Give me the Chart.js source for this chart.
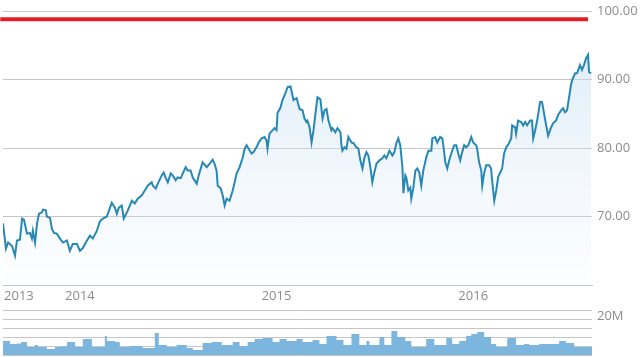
<!DOCTYPE html>
<html><head><meta charset="utf-8">
<script src="https://cdn.jsdelivr.net/npm/chart.js@4"></script>
<style>
html,body{margin:0;padding:0;background:#fff;overflow:hidden;width:640px;height:357px;}
#wrap1{position:absolute;left:0;top:0;width:640px;height:305px;}
#wrap2{position:absolute;left:0;top:300px;width:640px;height:64px;}
</style></head><body>
<div id="wrap1"><canvas id="price"></canvas></div>
<div id="wrap2"><canvas id="vol"></canvas></div>
<script>
// Dates as decimal years
const priceDates = [
2013.609,2013.624,2013.635,2013.655,2013.670,2013.680,2013.695,2013.706,2013.716,2013.731,
2013.746,2013.756,2013.761,2013.772,2013.782,2013.792,2013.807,2013.812,2013.827,2013.832,
2013.848,2013.858,2013.868,2013.883,2013.898,2013.914,2013.934,2013.949,2013.964,2013.985,
2014.000,2014.015,2014.036,2014.051,2014.066,2014.086,2014.102,2014.117,2014.137,2014.162,
2014.178,2014.188,2014.198,2014.213,2014.223,2014.239,2014.254,2014.264,2014.279,2014.294,
2014.315,2014.330,2014.345,2014.365,2014.371,2014.386,2014.396,2014.416,2014.426,2014.437,
2014.447,2014.462,2014.472,2014.487,2014.497,2014.513,2014.523,2014.538,2014.548,2014.563,
2014.574,2014.594,2014.604,2014.624,2014.645,2014.660,2014.675,2014.685,2014.695,2014.701,
2014.716,2014.726,2014.736,2014.746,2014.761,2014.777,2014.787,2014.797,2014.812,2014.827,
2014.838,2014.848,2014.858,2014.873,2014.883,2014.898,2014.909,2014.924,2014.939,2014.949,
2014.954,2014.964,2014.980,2014.990,2015.000,2015.005,2015.020,2015.030,2015.046,2015.056,
2015.071,2015.081,2015.086,2015.102,2015.117,2015.132,2015.142,2015.152,2015.157,2015.168,
2015.178,2015.188,2015.198,2015.208,2015.223,2015.234,2015.244,2015.254,2015.264,2015.279,
2015.284,2015.299,2015.310,2015.325,2015.330,2015.335,2015.345,2015.355,2015.365,2015.381,
2015.391,2015.406,2015.416,2015.426,2015.437,2015.447,2015.457,2015.467,2015.477,2015.487,
2015.497,2015.508,2015.523,2015.538,2015.548,2015.558,2015.574,2015.589,2015.599,2015.609,
2015.619,2015.629,2015.640,2015.645,2015.655,2015.660,2015.670,2015.680,2015.685,2015.695,
2015.706,2015.716,2015.726,2015.736,2015.746,2015.761,2015.772,2015.787,2015.792,2015.807,
2015.817,2015.832,2015.843,2015.848,2015.858,2015.868,2015.878,2015.893,2015.904,2015.914,
2015.924,2015.934,2015.944,2015.954,2015.964,2015.975,2015.990,2016.000,2016.015,2016.020,
2016.030,2016.041,2016.046,2016.056,2016.066,2016.081,2016.091,2016.096,2016.107,2016.117,
2016.127,2016.147,2016.157,2016.168,2016.178,2016.193,2016.198,2016.213,2016.218,2016.228,
2016.244,2016.254,2016.264,2016.274,2016.289,2016.299,2016.305,2016.315,2016.325,2016.340,
2016.350,2016.360,2016.371,2016.381,2016.396,2016.406,2016.421,2016.431,2016.447,2016.457,
2016.467,2016.477,2016.487,2016.497,2016.503,2016.518,2016.528,2016.543,2016.553,2016.563,
2016.574,2016.584,2016.589,2016.599
];
const priceValues = [
69.0,65.3,66.2,65.7,64.3,66.5,66.6,69.7,69.5,67.5,
67.6,66.8,67.9,66.2,69.0,70.4,70.6,71.0,70.9,70.0,
69.8,68.2,67.6,67.5,66.8,66.2,66.5,65.0,66.0,66.0,
65.0,65.4,66.5,67.2,66.8,67.9,69.3,69.7,70.0,72.0,
71.3,70.4,71.3,71.6,69.7,70.6,71.6,72.3,71.9,72.6,
73.1,73.8,74.5,75.0,74.5,74.1,74.8,76.0,76.4,75.6,
75.0,76.3,76.0,75.3,75.7,75.6,76.3,77.2,76.7,76.7,
75.7,74.8,76.0,77.9,77.2,77.7,78.3,77.7,76.7,74.5,
74.1,73.1,71.6,72.6,72.3,73.8,75.0,76.3,77.2,78.5,
79.9,80.4,79.9,79.2,79.4,80.1,80.8,81.4,81.6,81.1,
79.9,82.1,82.6,82.9,82.6,85.1,85.9,87.0,88.1,88.9,
89.0,87.7,87.0,87.3,85.7,85.5,84.3,83.8,84.0,83.0,
80.8,82.6,85.1,87.4,87.1,84.3,85.5,85.7,84.0,82.6,
82.9,82.3,82.9,82.3,80.4,79.6,80.1,79.9,81.6,80.8,
80.7,80.1,79.9,78.2,77.0,78.6,79.4,78.9,77.2,75.0,
76.4,77.7,78.2,78.5,78.9,78.5,79.6,78.9,79.4,80.7,
81.4,80.4,77.2,73.4,76.0,75.7,73.8,74.2,72.6,74.1,
76.7,77.0,76.4,74.5,76.7,78.6,79.6,79.6,81.4,81.6,
80.8,81.6,81.4,80.4,77.9,77.0,78.2,79.6,80.4,80.4,
79.2,78.2,79.4,80.4,80.1,80.4,81.6,80.8,80.4,79.9,
77.9,76.7,74.5,76.4,77.5,77.5,77.0,75.3,72.3,73.8,
75.8,77.0,79.2,80.1,80.5,81.4,83.3,83.0,82.1,84.0,
83.8,83.3,83.8,83.3,84.0,84.0,81.4,82.6,84.0,86.7,
86.7,85.1,83.3,81.8,83.0,83.6,84.0,84.8,85.5,85.8,
85.2,85.5,87.3,89.2,89.9,90.9,90.9,92.1,91.4,92.1,
93.1,93.6,91.1,90.9
];
const refLineDates = [2013.595, 2016.584];
const refLineValues = [98.8, 98.8];

// Volume (millions), each value holds from its date until the next date
const volumeDates = [
2013.609,2013.645,2013.680,2013.701,2013.731,2013.772,2013.787,2013.832,2013.873,2013.898,
2013.934,2013.975,2014.015,2014.061,2014.127,2014.137,2014.178,2014.203,2014.254,2014.320,
2014.381,2014.401,2014.442,2014.492,2014.543,2014.574,2014.624,2014.670,2014.721,2014.777,
2014.812,2014.853,2014.888,2014.929,2014.980,2015.015,2015.051,2015.102,2015.132,2015.183,
2015.218,2015.254,2015.305,2015.340,2015.381,2015.421,2015.457,2015.472,2015.523,2015.548,
2015.584,2015.614,2015.655,2015.685,2015.761,2015.802,2015.863,2015.893,2015.929,2015.964,
2015.990,2016.020,2016.056,2016.091,2016.117,2016.173,2016.218,2016.259,2016.284,2016.335,
2016.437,2016.472,2016.513,2016.548,2016.604
];
const volumeValues = [
5.6,7.8,6.1,6.4,7.2,4.4,5.6,4.4,3.3,4.4,
4.7,7.2,4.4,8.9,4.4,10.6,7.8,7.2,4.4,5.0,
3.9,12.2,5.6,4.4,5.6,3.9,2.8,6.7,7.2,5.6,
7.2,5.0,7.2,8.9,9.4,7.2,8.9,7.8,8.9,7.2,
8.3,6.1,10.6,8.3,5.6,11.7,5.6,7.8,5.6,10.0,
5.6,13.3,10.0,7.8,4.4,8.9,5.6,9.4,6.1,7.8,
10.6,11.7,12.8,10.0,6.1,4.4,9.4,5.6,6.1,5.6,
6.1,7.8,6.7,4.4,4.4
];

const priceTicks = [60, 70, 80, 90, 100];
const volumeTicks = [0, 5, 10, 15, 20, 25];
const volumeLabelTick = 20;
const yearTickValues = [2013.69, 2014, 2015, 2016];
const yearTickLabels = ['2013', '2014', '2015', '2016'];
const xMin = 2013.609, xMax = 2016.604;

const FONT = {family: '"Open Sans", "DejaVu Sans", sans-serif', size: 13};
const YFONT = {family: '"Open Sans", "DejaVu Sans", sans-serif', size: 13, lineHeight: 0.2};
const TEXT = '#8c8c8c';
const GRID = '#c6c6c6';

const pricePts = priceDates.map((d, i) => ({x: d, y: priceValues[i]}));
const refPts = refLineDates.map((d, i) => ({x: d, y: refLineValues[i]}));
const volPts = volumeDates.map((d, i) => ({x: d, y: volumeValues[i]}));

new Chart(document.getElementById('price'), {
  type: 'line',
  data: {
    datasets: [
      {
        data: refPts, borderColor: '#e11f26', borderWidth: 4, pointRadius: 0,
        fill: false, borderCapStyle: 'butt', clip: {left: 4, right: 0, top: 0, bottom: 0}
      },
      {
        data: pricePts, borderColor: '#2888b5', borderWidth: 2, pointRadius: 0,
        tension: 0, borderJoinStyle: 'miter',
        fill: 'start',
        backgroundColor: (ctx) => {
          const ch = ctx.chart; const a = ch.chartArea;
          if (!a) return 'rgba(210,230,245,0.4)';
          const g = ch.ctx.createLinearGradient(0, a.top + 40, 0, a.bottom);
          g.addColorStop(0, 'rgba(200,224,243,0.55)');
          g.addColorStop(1, 'rgba(220,235,248,0.08)');
          return g;
        }
      }
    ]
  },
  options: {
    responsive: true, maintainAspectRatio: false, animation: false,
    layout: {padding: {left: 3, top: 11, right: 0, bottom: 0}},
    plugins: {legend: {display: false}, tooltip: {enabled: false}},
    scales: {
      x: {
        type: 'linear', min: xMin, max: xMax,
        grid: {display: false, drawTicks: false},
        border: {display: true, color: GRID, width: 1},
        afterBuildTicks: (s) => { s.ticks = yearTickValues.map(v => ({value: v})); },
        afterFit: (s) => { s.height = 20; },
        ticks: {
          autoSkip: false, maxRotation: 0, padding: 3, color: TEXT, font: FONT,
          callback: (v) => { const i = yearTickValues.indexOf(v); return i >= 0 ? yearTickLabels[i] : ''; }
        }
      },
      y: {
        position: 'right', min: 60, max: 100,
        grid: {color: GRID, drawTicks: false, lineWidth: 1}, border: {display: false},
        afterBuildTicks: (s) => { s.ticks = priceTicks.map(v => ({value: v})); },
        afterFit: (s) => { s.width = 48; },
        ticks: {
          autoSkip: false, padding: 5, color: TEXT, font: YFONT,
          callback: (v) => v === 60 ? '' : v.toFixed(2)
        }
      }
    }
  }
});

new Chart(document.getElementById('vol'), {
  type: 'line',
  data: {
    datasets: [{
      data: volPts, stepped: 'after', borderWidth: 0, borderColor: 'rgba(0,0,0,0)',
      pointRadius: 0, fill: 'origin', backgroundColor: '#7cb6df'
    }]
  },
  options: {
    responsive: true, maintainAspectRatio: false, animation: false,
    layout: {padding: {left: 3, top: 10, right: 0, bottom: 9}},
    plugins: {legend: {display: false}, tooltip: {enabled: false}},
    scales: {
      x: {type: 'linear', min: xMin, max: xMax, display: false},
      y: {
        position: 'right', min: 0, max: 25,
        grid: {color: GRID, drawTicks: false}, border: {display: false},
        afterBuildTicks: (s) => { s.ticks = volumeTicks.map(v => ({value: v})); },
        afterFit: (s) => { s.width = 48; },
        ticks: {
          autoSkip: false, padding: 5, color: TEXT, font: YFONT, labelOffset: -3,
          callback: (v) => v === volumeLabelTick ? volumeLabelTick + 'M' : ''
        }
      }
    }
  }
});
</script>
</body></html>
